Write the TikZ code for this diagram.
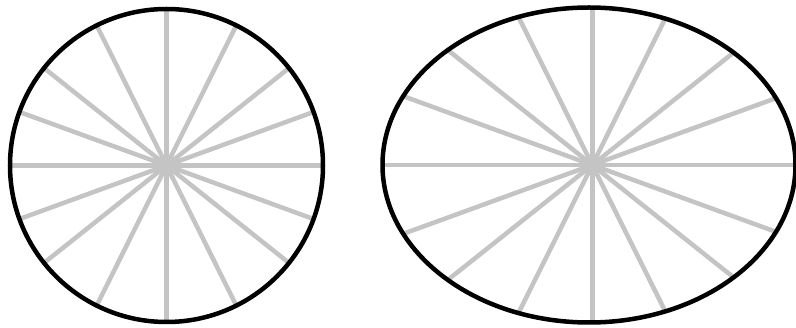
\documentclass[tikz,border=0pt]{standalone}
\usepackage{tikz}
\usetikzlibrary{calc}
\definecolor{spokegray}{RGB}{196,196,196}
\tikzset{
  spoke/.style={draw=spokegray, line width=4.5pt},
  rim/.style={draw=black, line width=4.5pt}
}
\begin{document}
\begin{tikzpicture}[x=1pt,y=-1pt]
\useasboundingbox (0,0) rectangle (796,328);
\fill[white] (0,0) rectangle (796,328);
% left: circle
\coordinate (cL) at (166.5,165.5);
\coordinate (hubL) at (166.5,165.5);
\begin{scope}
  \clip (cL) circle[radius=156.5];
  \foreach \a in {0,20,38.5,63.5,90,116.5,141.5,160}
    \draw[spoke] ($(hubL)+(\a:400)$) -- ($(hubL)+(\a+180:400)$);
\end{scope}
\draw[rim] (cL) circle[radius=156.5];
% right: ellipse
\coordinate (cR) at (589,165);
\coordinate (hubR) at (592.3,165);
\begin{scope}
  \clip (cR) ellipse[x radius=206.5, y radius=157.5];
  \foreach \a in {0,20,38.5,63.5,90,116.5,141.5,160}
    \draw[spoke] ($(hubR)+(\a:500)$) -- ($(hubR)+(\a+180:500)$);
\end{scope}
\draw[rim] (cR) ellipse[x radius=206.5, y radius=157.5];
\end{tikzpicture}
\end{document}
